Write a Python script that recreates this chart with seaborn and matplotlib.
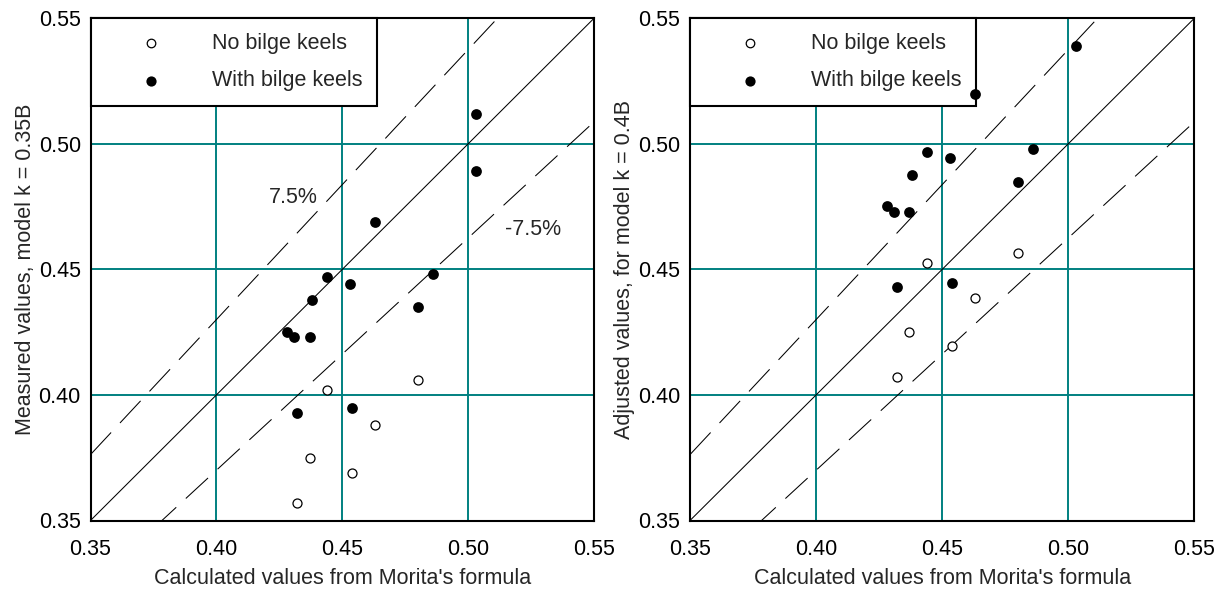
import matplotlib
matplotlib.use("Agg")
import matplotlib.pyplot as plt
import pandas as pd
import seaborn as sns

# Roll-damping coefficient: Morita's formula vs model tests
calc_plain = [0.432, 0.437, 0.444, 0.454, 0.463, 0.480]
meas_plain = [0.357, 0.375, 0.402, 0.369, 0.388, 0.406]

calc_keels = [0.428, 0.431, 0.437, 0.438, 0.444, 0.453, 0.463,
              0.432, 0.454, 0.480, 0.486, 0.503, 0.503]
meas_keels = [0.425, 0.423, 0.423, 0.438, 0.447, 0.444, 0.469,
              0.393, 0.395, 0.435, 0.448, 0.512, 0.489]

# Same hulls, values adjusted to model k = 0.4B
adj_plain = [0.407, 0.425, 0.4525, 0.4195, 0.4385, 0.4565]

calc_keels_adj = [0.428, 0.431, 0.437, 0.438, 0.444, 0.453, 0.463,
                  0.432, 0.454, 0.480, 0.486, 0.503]
adj_keels = [0.4754, 0.4727, 0.4727, 0.4876, 0.4969, 0.4944, 0.5197,
             0.443, 0.4447, 0.4849, 0.4979, 0.539]

ticks = [0.35, 0.40, 0.45, 0.50, 0.55]
tick_labels = ["0.35", "0.40", "0.45", "0.50", "0.55"]
span = [0.35, 0.55]
band = 0.075  # +/- 7.5 % band around perfect agreement

sns.set_style("white")
plt.rcParams["font.family"] = ["Liberation Sans", "DejaVu Sans"]

TEAL = "#008080"
FS = 15.5

fig = plt.figure(figsize=(12.28, 5.91), dpi=100)
ax1 = fig.add_axes([90.5 / 1228, 70.5 / 591, 503.5 / 1228, 502.2 / 591])
ax2 = fig.add_axes([690 / 1228, 70.5 / 591, 504.3 / 1228, 502.2 / 591])


def reference_lines(ax):
    ref = pd.DataFrame({"x": span})
    for factor, style in [(1.0, "-"), (1 + band, (0, (29, 12.5))), (1 - band, (0, (29, 12.5)))]:
        ref["y"] = [v * factor for v in span]
        sns.lineplot(data=ref, x="x", y="y", ax=ax, color="black", lw=0.75,
                     linestyle=style, zorder=2)


def style_axes(ax, ylabel):
    ax.set_xlim(span)
    ax.set_ylim(span)
    ax.set_xticks(ticks)
    ax.set_yticks(ticks)
    ax.set_xticklabels(tick_labels)
    ax.set_yticklabels(tick_labels)
    ax.tick_params(axis="both", length=0, labelsize=FS, colors="black")
    ax.tick_params(axis="x", pad=13)
    ax.tick_params(axis="y", pad=7)
    ax.grid(True, color=TEAL, lw=1.4, zorder=0)
    ax.set_axisbelow(True)
    for sp in ax.spines.values():
        sp.set_color("black")
        sp.set_linewidth(1.5)
    ax.set_xlabel("Calculated values from Morita's formula", fontsize=FS, labelpad=6)
    ax.set_ylabel(ylabel, fontsize=FS, labelpad=2)


def points(ax, x_open, y_open, x_fill, y_fill):
    sns.scatterplot(x=x_open, y=y_open, ax=ax, marker="o", s=42,
                    facecolor="white", edgecolor="black", linewidth=0.9,
                    label="No bilge keels", zorder=6)
    sns.scatterplot(x=x_fill, y=y_fill, ax=ax, marker="o", s=60,
                    color="black", edgecolor="black", linewidth=0,
                    label="With bilge keels", zorder=6)
    leg = ax.legend(loc="upper left", bbox_to_anchor=(0, 1), borderaxespad=0,
                    fontsize=FS, frameon=True, fancybox=False, framealpha=1,
                    edgecolor="black", borderpad=0.67, handlelength=4.25,
                    handletextpad=0.71, labelspacing=0.77, markerscale=0.95)
    leg.get_frame().set_linewidth(1.5)
    leg.set_zorder(5)


reference_lines(ax1)
points(ax1, calc_plain, meas_plain, calc_keels, meas_keels)
style_axes(ax1, "Measured values, model k = 0.35B")
ax1.text(0.4305, 0.4788, "7.5%", fontsize=FS, ha="center", va="center")
ax1.text(0.5257, 0.4657, "-7.5%", fontsize=FS, ha="center", va="center")

reference_lines(ax2)
points(ax2, calc_plain, adj_plain, calc_keels_adj, adj_keels)
style_axes(ax2, "Adjusted values, for model k = 0.4B")

fig.savefig("out.png", dpi=100)
